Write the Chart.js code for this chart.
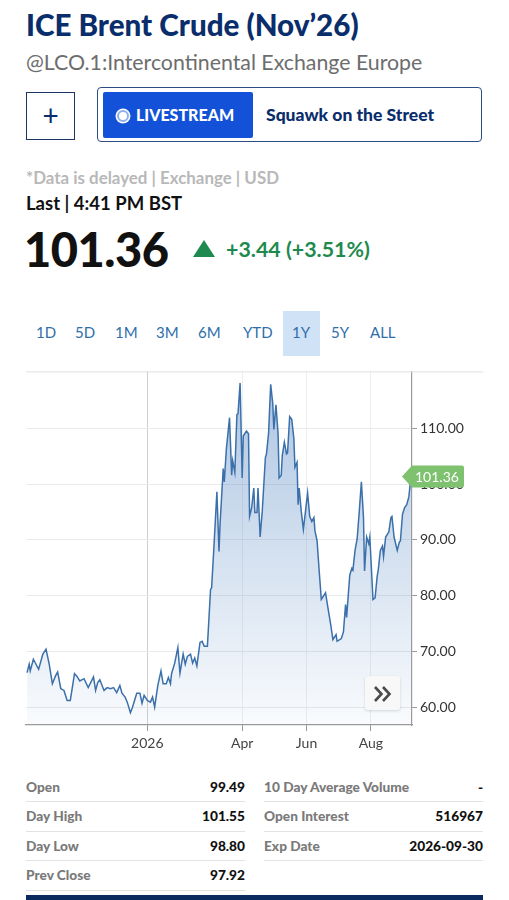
<!DOCTYPE html>
<html>
<head>
<meta charset="utf-8">
<script src="https://cdn.jsdelivr.net/npm/chart.js@4"></script>
<style>
  body { margin: 0; width: 509px; height: 900px; background: #fff; font-family: Lato, "Open Sans", sans-serif; position: relative; overflow: hidden; }
  .abs { position: absolute; white-space: nowrap; }
  #title { left: 26px; top: 7px; font-size: 29.6px; font-weight: 900; color: #0a2d6b; }
  #sub { left: 26px; top: 49px; font-size: 21.3px; color: #6d6d6d; }
  #plus { left: 26px; top: 92px; width: 47px; height: 46px; border: 1.5px solid #1b3566; font-size: 28px; color: #0a2d6b; text-align: center; line-height: 44px; }
  #live { left: 97px; top: 87px; width: 383px; height: 53px; border: 1.5px solid #2c4d84; border-radius: 4px; }
  #livebtn { left: 5px; top: 4px; width: 150px; height: 46px; background: #1352d8; border-radius: 2px; color: #fff; font-weight: 900; font-size: 16px; line-height: 46px; }
  #livebtn .dot { display: inline-block; width: 8px; height: 8px; border-radius: 50%; background: #fff; border: 2px solid #8fb0ee; box-shadow: 0 0 0 1.5px #fff; margin: 0 7px 0 14px; vertical-align: -1px; }
  #squawk { left: 168px; top: 0; line-height: 53px; font-size: 17.5px; font-weight: 900; color: #0a2d6b; }
  #delay { left: 26px; top: 167px; font-size: 16.9px; color: #b8b8b8; font-weight: 700; }
  #last { left: 26px; top: 192px; font-size: 18.5px; color: #111; font-weight: 700; }
  #price { left: 24px; top: 221px; font-size: 47px; color: #111; font-weight: 900; letter-spacing: -0.5px; }
  #tri { left: 193px; top: 240px; width: 0; height: 0; border-left: 11px solid transparent; border-right: 11px solid transparent; border-bottom: 17px solid #1e8a4f; }
  #chg { left: 226px; top: 236px; font-size: 21.4px; color: #1e8a4f; font-weight: 700; }
  .rng { top: 323px; font-size: 15px; color: #2f6eaa; }
  #sel { left: 283px; top: 311px; width: 37px; height: 45px; background: #cfe2f6; }
  #more { left: 365px; top: 676px; width: 35px; height: 34px; border-radius: 3px; background: #f8f8f8; box-shadow: 0 1px 3px rgba(0,0,0,0.15); }
  #chartbox { left: 0; top: 360px; width: 509px; height: 400px; }
  .row { font-size: 13.7px; font-weight: 900; }
  .lab { color: #7a7a7a; }
  .val { color: #111; text-align: right; }
  .line { height: 1px; background: #e2e2e2; }
  #bar { left: 26px; top: 895px; width: 457px; height: 5px; background: #0b2a5e; }
</style>
</head>
<body>
<div class="abs" id="title">ICE Brent Crude (Nov’26)</div>
<div class="abs" id="sub">@LCO.1:Intercontinental Exchange Europe</div>
<div class="abs" id="plus">+</div>
<div class="abs" id="live">
  <div class="abs" id="livebtn"><span class="dot"></span>LIVESTREAM</div>
  <div class="abs" id="squawk">Squawk on the Street</div>
</div>
<div class="abs" id="delay">*Data is delayed | Exchange | USD</div>
<div class="abs" id="last">Last | 4:41 PM BST</div>
<div class="abs" id="price">101.36</div>
<div class="abs" id="tri"></div>
<div class="abs" id="chg">+3.44 (+3.51%)</div>

<div class="abs" id="sel"></div>
<div class="abs rng" style="left:36px">1D</div>
<div class="abs rng" style="left:75px">5D</div>
<div class="abs rng" style="left:115px">1M</div>
<div class="abs rng" style="left:156px">3M</div>
<div class="abs rng" style="left:198px">6M</div>
<div class="abs rng" style="left:243px">YTD</div>
<div class="abs rng" style="left:292px">1Y</div>
<div class="abs rng" style="left:331px">5Y</div>
<div class="abs rng" style="left:370px">ALL</div>

<div class="abs" id="chartbox"><canvas id="chart"></canvas></div>
<div class="abs" id="more">
  <svg width="35" height="34" viewBox="0 0 35 34">
    <polyline points="10,11 16.5,18 10,25" fill="none" stroke="#4a4a4a" stroke-width="2.6"/>
    <polyline points="18,11 24.5,18 18,25" fill="none" stroke="#4a4a4a" stroke-width="2.6"/>
  </svg>
</div>

<div id="stats"></div>
<div class="abs" id="bar"></div>

<script>
// price history, x = days from 1 Jan 2026
const days = [-114,-112,-111,-108,-103,-99,-96,-93,-90,-87,-85,-82,-79,-76,-73,-69,-67,-64,-60,-56,
  -51,-49,-47,-45,-41,-38,-35,-32,-29,-26,-24,-21,-19,-16,-14,-10,-7,-5,-3,0,
  3,5,7,10,13,15,18,20,22,23,26,29,31,34,36,38,41,43,45,47,
  50,52,54,57,60,61,63,66,68,69,72,73,75,78,80,81,83,85,86,88,
  90,91,94,96,97,99,101,102,104,105,107,109,112,113,115,117,119,120,122,124,
  125,127,128,130,132,133,135,137,139,140,142,143,144,146,148,150,152,154,156,158,
  159,161,163,165,169,172,174,176,179,180,184,186,188,189,192,194,195,197,199,201,
  203,205,206,208,210,211,214,216,218,219,221,223,224,226,229,231,232,234,237,239,
  240,242,244,246,248,250];
const prices = [66.2,67.7,66.5,68.6,66.8,69.5,70.4,67.7,64.2,65.6,66.3,63.3,63.0,61.2,61.2,66.0,65.6,64.7,65.1,63.5,
  65.4,63.0,64.4,64.9,63.0,63.5,63.3,63.5,62.6,63.9,62.5,61.8,60.9,59.0,60.0,62.5,62.5,60.7,62.1,61.2,
  60.9,61.8,60.0,63.9,66.5,64.2,64.2,65.3,64.2,66.0,67.9,70.7,66.1,69.5,67.7,69.1,69.5,67.9,68.8,67.4,
  71.6,71.8,70.9,70.9,81.1,81.4,88.1,98.6,87.9,92.8,102.8,100.4,106.3,111.9,101.6,104.2,102.1,112.5,112.6,118.1,
  101.1,108.6,109.5,109.0,94.2,95.8,99.3,94.9,94.9,99.3,90.5,95.1,104.8,105.4,109.1,117.9,114.4,109.8,114.2,109.1,
  101.1,101.6,105.1,107.5,105.4,105.6,112.1,111.6,108.1,103.0,103.9,96.3,99.3,95.1,91.9,95.1,98.4,94.2,93.3,94.0,
  91.6,89.8,84.4,79.3,80.5,77.0,74.7,72.1,73.0,71.8,72.3,73.5,78.4,76.1,83.7,84.9,84.6,88.1,90.2,95.1,
  100.4,94.0,84.4,90.5,89.3,90.5,79.3,79.6,83.5,84.6,88.1,88.9,87.0,90.5,91.4,94.0,94.2,90.5,88.1,89.6,
  89.8,94.6,95.8,96.3,97.7,101.36];

const xTickDays = [0, 90, 151, 212];
const xTickLabels = ['2026', 'Apr', 'Jun', 'Aug'];
const yTicks = [60, 70, 80, 90, 100, 110];
const lastPrice = '101.36';

const statLeft = [['Open', '99.49'], ['Day High', '101.55'], ['Day Low', '98.80'], ['Prev Close', '97.92']];
const statRight = [['10 Day Average Volume', '-'], ['Open Interest', '516967'], ['Exp Date', '2026-09-30']];

// stats table
const stats = document.getElementById('stats');
function addRows(rows, left, right) {
  rows.forEach((r, i) => {
    const top = 777.5 + i * 29.5;
    stats.insertAdjacentHTML('beforeend',
      `<div class="abs row lab" style="left:${left}px;top:${top}px">${r[0]}</div>` +
      `<div class="abs row val" style="right:${509 - right}px;top:${top}px">${r[1]}</div>` +
      `<div class="abs line" style="left:${left}px;top:${top + 23.5}px;width:${right - left}px"></div>`);
  });
}
addRows(statLeft, 26, 245);
addRows(statRight, 264, 483);

const points = days.map((d, i) => ({ x: d, y: prices[i] }));

const extras = {
  id: 'extras',
  afterDraw(chart) {
    const c = chart.ctx, a = chart.chartArea;
    // top border line
    c.save();
    c.strokeStyle = '#e0e0e0';
    c.lineWidth = 1;
    c.beginPath();
    c.moveTo(a.left, a.top + 0.5);
    c.lineTo(483, a.top + 0.5);
    c.stroke();
    // last price badge
    const y = chart.scales.y.getPixelForValue(prices[prices.length - 1]);
    const x0 = 402, x1 = 412, x2 = 464, h = 11;
    c.fillStyle = '#7ec16f';
    c.beginPath();
    c.moveTo(x0, y);
    c.lineTo(x1, y - h);
    c.lineTo(x2 - 2, y - h);
    c.quadraticCurveTo(x2, y - h, x2, y - h + 2);
    c.lineTo(x2, y + h - 2);
    c.quadraticCurveTo(x2, y + h, x2 - 2, y + h);
    c.lineTo(x1, y + h);
    c.closePath();
    c.fill();
    c.fillStyle = '#fff';
    c.font = '14px Lato, sans-serif';
    c.textAlign = 'left';
    c.textBaseline = 'middle';
    c.fillText(lastPrice, 415, y + 1);
    c.restore();
  }
};

new Chart(document.getElementById('chart'), {
  type: 'line',
  data: {
    datasets: [{
      data: points,
      borderColor: '#3b70aa',
      borderWidth: 1.5,
      pointRadius: 0,
      tension: 0,
      fill: 'start',
      backgroundColor: (ctx) => {
        const a = ctx.chart.chartArea;
        if (!a) return 'rgba(60,120,190,0.2)';
        const g = ctx.chart.ctx.createLinearGradient(0, a.top, 0, a.bottom);
        g.addColorStop(0, 'rgba(70,125,190,0.45)');
        g.addColorStop(1, 'rgba(70,125,190,0.03)');
        return g;
      }
    }]
  },
  options: {
    responsive: true,
    maintainAspectRatio: false,
    animation: false,
    layout: { padding: { left: 26, top: 4, right: 0, bottom: 0 } },
    plugins: { legend: { display: false }, tooltip: { enabled: false } },
    scales: {
      x: {
        type: 'linear',
        min: -115,
        max: 251,
        afterBuildTicks: (s) => { s.ticks = xTickDays.map(v => ({ value: v })); },
        afterFit: (s) => { s.height = 35; },
        ticks: {
          callback: (v) => xTickLabels[xTickDays.indexOf(v)],
          color: '#444',
          font: { family: 'Lato', size: 14 },
          padding: 4,
          maxRotation: 0
        },
        grid: {
          color: (ctx) => ctx.tick && ctx.tick.value === 0 ? '#cfcfcf' : '#eeeeee',
          tickColor: '#999',
          tickLength: 6
        },
        border: { color: '#9a9a9a', width: 1.2 }
      },
      y: {
        position: 'right',
        min: 56.8,
        max: 120.2,
        afterBuildTicks: (s) => { s.ticks = yTicks.map(v => ({ value: v })); },
        afterFit: (s) => { s.width = 97; },
        ticks: {
          callback: (v) => v.toFixed(2),
          color: '#333',
          font: { family: 'Lato', size: 14 },
          padding: 3
        },
        grid: { color: '#eaeaea', tickColor: '#999', tickLength: 5 },
        border: { color: '#9a9a9a', width: 1.2 }
      }
    }
  },
  plugins: [extras]
});
</script>
</body>
</html>
